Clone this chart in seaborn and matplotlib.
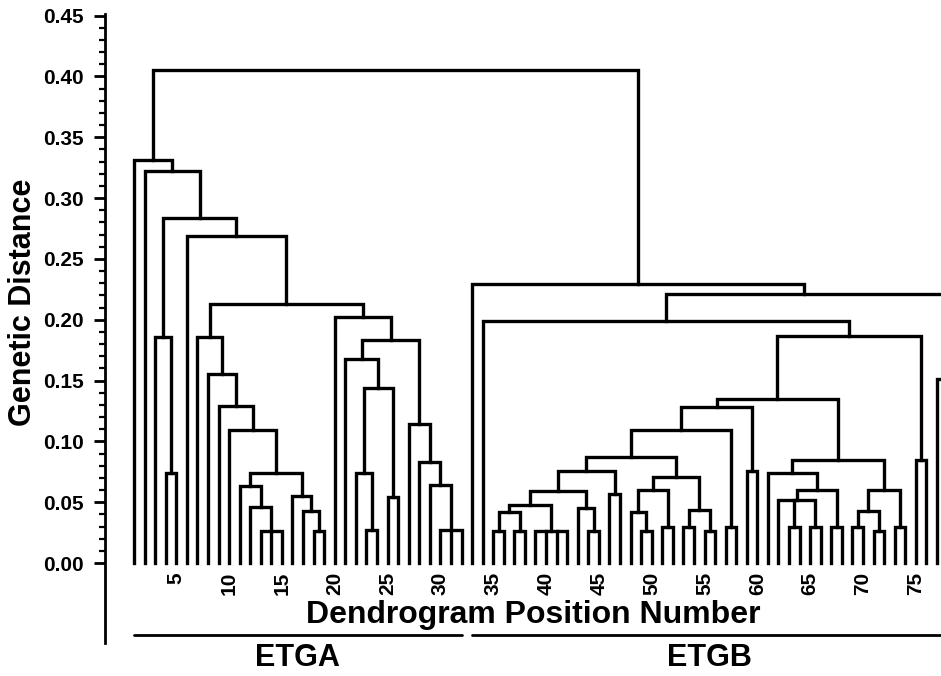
import itertools

import numpy as np
import pandas as pd
import seaborn as sns
import matplotlib.pyplot as plt
from matplotlib.ticker import FixedLocator, FormatStrFormatter

# tree: [merge height, child, child, ...], leaves are dendrogram positions
a_11_19 = [0.074, [0.063, 11, [0.046, 12, [0.026, 13, 14, 15]]],
           [0.055, 16, [0.043, 17, [0.026, 18, 19]]]]
a_7_19 = [0.186, 7, [0.155, 8, [0.129, 9, [0.109, 10, a_11_19]]]]
a_20_32 = [0.202, 20, [0.183,
                       [0.1675, 21, [0.144, [0.074, 22, [0.027, 23, 24]], [0.0545, 25, 26]]],
                       [0.114, 27, [0.083, 28, [0.064, 29, [0.027, 30, 31, 32]]]]]]
etga = [0.331, 1, [0.322, 2, [0.284, [0.186, 3, [0.074, 4, 5]],
                              [0.269, 6, [0.213, a_7_19, a_20_32]]]]]

b_35_47 = [0.0755, [0.059, [0.048, [0.042, [0.026, 35, 36], [0.026, 37, 38]], [0.026, 39, 40, 41, 42]],
                    [0.045, 43, [0.026, 44, 45]]],
           [0.057, 46, 47]]
b_48_56 = [0.071, [0.060, [0.042, 48, [0.026, 49, 50]], [0.030, 51, 52]],
           [0.0435, [0.030, 53, 54], [0.026, 55, 56]]]
b_35_60 = [0.128, [0.109, [0.087, b_35_47, b_48_56], [0.030, 57, 58]], [0.076, 59, 60]]
b_61_74 = [0.085, [0.074, 61, [0.060, [0.052, 62, [0.030, 63, 64], [0.030, 65, 66]], [0.030, 67, 68]]],
           [0.060, [0.043, [0.030, 69, 70], [0.026, 71, 72]], [0.030, 73, 74]]]
etgb = [0.229, 33, [0.221, [0.199, 34, [0.187, [0.135, b_35_60, b_61_74], [0.085, 75, 76]]],
                    [0.151, 77, 78]]]
root = [0.405, etga, etgb]

groups = ["ETGA", "ETGB"]
group_first = [1, 33]
group_last = [32, 78]
tick_positions = list(range(5, 80, 5))

counter = itertools.count()
rows = []
leaves = []


def walk(node):
    if isinstance(node, int):
        leaves.append(node)
        return node, 0.0
    h = node[0]
    kids = [walk(c) for c in node[1:]]
    (xa, ha), (xb, hb) = kids[0], kids[-1]
    u = next(counter)
    for x, y in [(xa, ha), (xa, h), (xb, h), (xb, hb)]:
        rows.append({"unit": u, "x": x, "y": y})
    for xm, hm in kids[1:-1]:
        u = next(counter)
        rows.append({"unit": u, "x": xm, "y": hm})
        rows.append({"unit": u, "x": xm, "y": h})
    return (xa + xb) / 2, h


walk(root)
assert leaves == list(range(1, 79))
df = pd.DataFrame(rows)

sns.set_theme(style="white")
plt.rcParams["font.family"] = ["Liberation Sans", "DejaVu Sans"]
plt.rcParams["font.weight"] = "bold"

fig = plt.figure(figsize=(9.41, 6.76), dpi=100)
ax = fig.add_axes([105 / 941, 33 / 676, 855 / 941, 629.3 / 676])

sns.lineplot(data=df, x="x", y="y", units="unit", estimator=None, sort=False,
             color="black", linewidth=2.4, legend=False, ax=ax,
             solid_capstyle="projecting", solid_joinstyle="miter")

ax.set_xlim(-1.745, 79.18)
ax.set_ylim(-0.0657, 0.4515)
ax.set(xlabel="", ylabel="")

for s in ["top", "right"]:
    ax.spines[s].set_visible(False)
ax.spines["bottom"].set_position(("data", 0))
ax.spines["bottom"].set_color("none")
ax.spines["left"].set_color("black")
ax.spines["left"].set_linewidth(2.0)

ax.set_yticks(np.arange(0, 0.451, 0.05))
ax.yaxis.set_minor_locator(FixedLocator(np.arange(0, 0.451, 0.01)))
ax.yaxis.set_major_formatter(FormatStrFormatter("%.2f"))
ax.tick_params(axis="y", which="major", direction="out", length=8, width=2,
               color="black", pad=7, labelsize=15, labelcolor="black", left=True)
ax.tick_params(axis="y", which="minor", direction="out", length=4.5, width=1.6,
               color="black", left=True)
for lbl in ax.get_yticklabels():
    lbl.set_fontweight("bold")

ax.set_xticks(tick_positions)
ax.set_xticklabels([str(t) for t in tick_positions], rotation=90, fontsize=15,
                   fontweight="bold", color="black")
ax.tick_params(axis="x", length=0, pad=6.5)

# group brackets
for name, a, b in zip(groups, group_first, group_last):
    ax.plot([a, b], [-0.0595, -0.0595], color="black", lw=2.0, clip_on=False)
    ax.text((a + b) / 2, -0.0850, name, ha="center", va="baseline",
            fontsize=22, fontweight="bold", color="black", clip_on=False)

fig.text(533 / 941, 1 - 623 / 676, "Dendrogram Position Number", ha="center",
         va="baseline", fontsize=23, fontweight="bold", color="black")
fig.text(23 / 941, 1 - 302.5 / 676, "Genetic Distance", rotation=90, ha="center",
         va="center", fontsize=22, fontweight="bold", color="black")

fig.savefig("out.png", dpi=100)
